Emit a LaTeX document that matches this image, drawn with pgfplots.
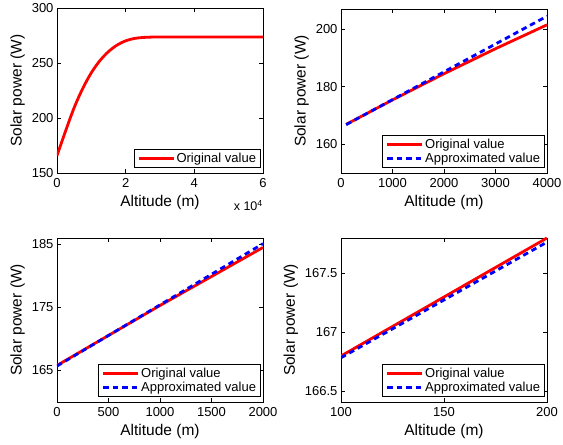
\documentclass[border=0pt]{standalone}
\usepackage{fontspec}
\setmainfont{Liberation Sans}
\usepackage{pgfplots}
\pgfplotsset{compat=1.18}
\pgfplotsset{
  every axis/.append style={
    scale only axis, width=206pt, height=164pt, anchor=south west,
    clip mode=individual,
    axis line style={line width=0.8pt}, tick style={black, line width=0.6pt}, major tick length=4pt,
    tick label style={font=\fontsize{13}{15}\selectfont},
    xticklabel style={yshift=-2pt},
    label style={font=\fontsize{15.5}{18}\selectfont},
    /pgf/number format/assume math mode=true,
    /pgf/number format/1000 sep={},
    xlabel={Altitude (m)}, ylabel={Solar power (W)},
    xlabel style={yshift=-1pt},
    legend style={font=\fontsize{13}{15}\selectfont, at={(0.99,0.03)}, anchor=south east, draw=black, line width=0.8pt, inner xsep=3pt, inner ysep=2.5pt, row sep=1pt,
      nodes={inner xsep=1.5pt, inner ysep=1pt}},
    legend cell align=left,
    legend image code/.code={\draw[#1] (0pt,0pt) -- (35pt,0pt);},
  },
  orig/.style={red, line width=2.8pt},
  approx/.style={blue, line width=2.8pt, dash pattern=on 5.5pt off 4pt},
}
\begin{document}
\begin{tikzpicture}
\path[use as bounding box] (0,0) rectangle (563pt,445pt);
% top left
\begin{axis}[at={(57pt,272pt)}, height=165pt,
  xmin=0, xmax=60000, ymin=150, ymax=300,
  xtick={0,20000,40000,60000}, xticklabels={0,2,4,6}, scaled x ticks=false,
  ytick={150,200,250,300}]
\addplot[orig, smooth] coordinates {
(0,165.8) (2500,188.2) (5000,209.4) (7500,226.9) (10000,241.15) (12500,252.15)
(15000,260.4) (17500,266.3) (20000,270.15) (22500,272.3) (25000,273.2)
(27500,273.55) (30000,273.65) (35000,273.7) (40000,273.7) (50000,273.7) (60000,273.7)};
\addlegendentry{Original value}
\node[anchor=north east, font=\fontsize{12.5}{14}\selectfont, inner sep=0pt] at ([yshift=-27pt]rel axis cs:1,0) {x 10\textsuperscript{4}};
\end{axis}
% top right
\begin{axis}[at={(341pt,272pt)},
  xmin=0, xmax=4000, ymin=150, ymax=207,
  xtick={0,1000,2000,3000,4000}, ytick={160,180,200}]
\addplot[orig] coordinates {(100,166.9) (1000,175.4) (2000,184.5) (3000,193.2) (4000,201.5)};
\addlegendentry{Original value}
\addplot[approx] coordinates {(100,166.8) (4000,204.5)};
\addlegendentry{Approximated value}
\end{axis}
% bottom left
\begin{axis}[at={(57pt,43pt)},
  xmin=0, xmax=2000, ymin=160, ymax=186,
  xtick={0,500,1000,1500,2000}, ytick={165,175,185}]
\addplot[orig] coordinates {(0,165.8) (1000,175.3) (2000,184.5)};
\addlegendentry{Original value}
\addplot[approx] coordinates {(0,165.7) (2000,185.1)};
\addlegendentry{Approximated value}
\end{axis}
% bottom right
\begin{axis}[at={(341pt,43pt)},
  xmin=100, xmax=200, ymin=166.41, ymax=167.8,
  xtick={100,150,200}, ytick={166.5,167,167.5}]
\addplot[orig] coordinates {(100,166.8) (200,167.8)};
\addlegendentry{Original value}
\addplot[approx] coordinates {(100,166.785) (200,167.765)};
\addlegendentry{Approximated value}
\end{axis}
\end{tikzpicture}
\end{document}
